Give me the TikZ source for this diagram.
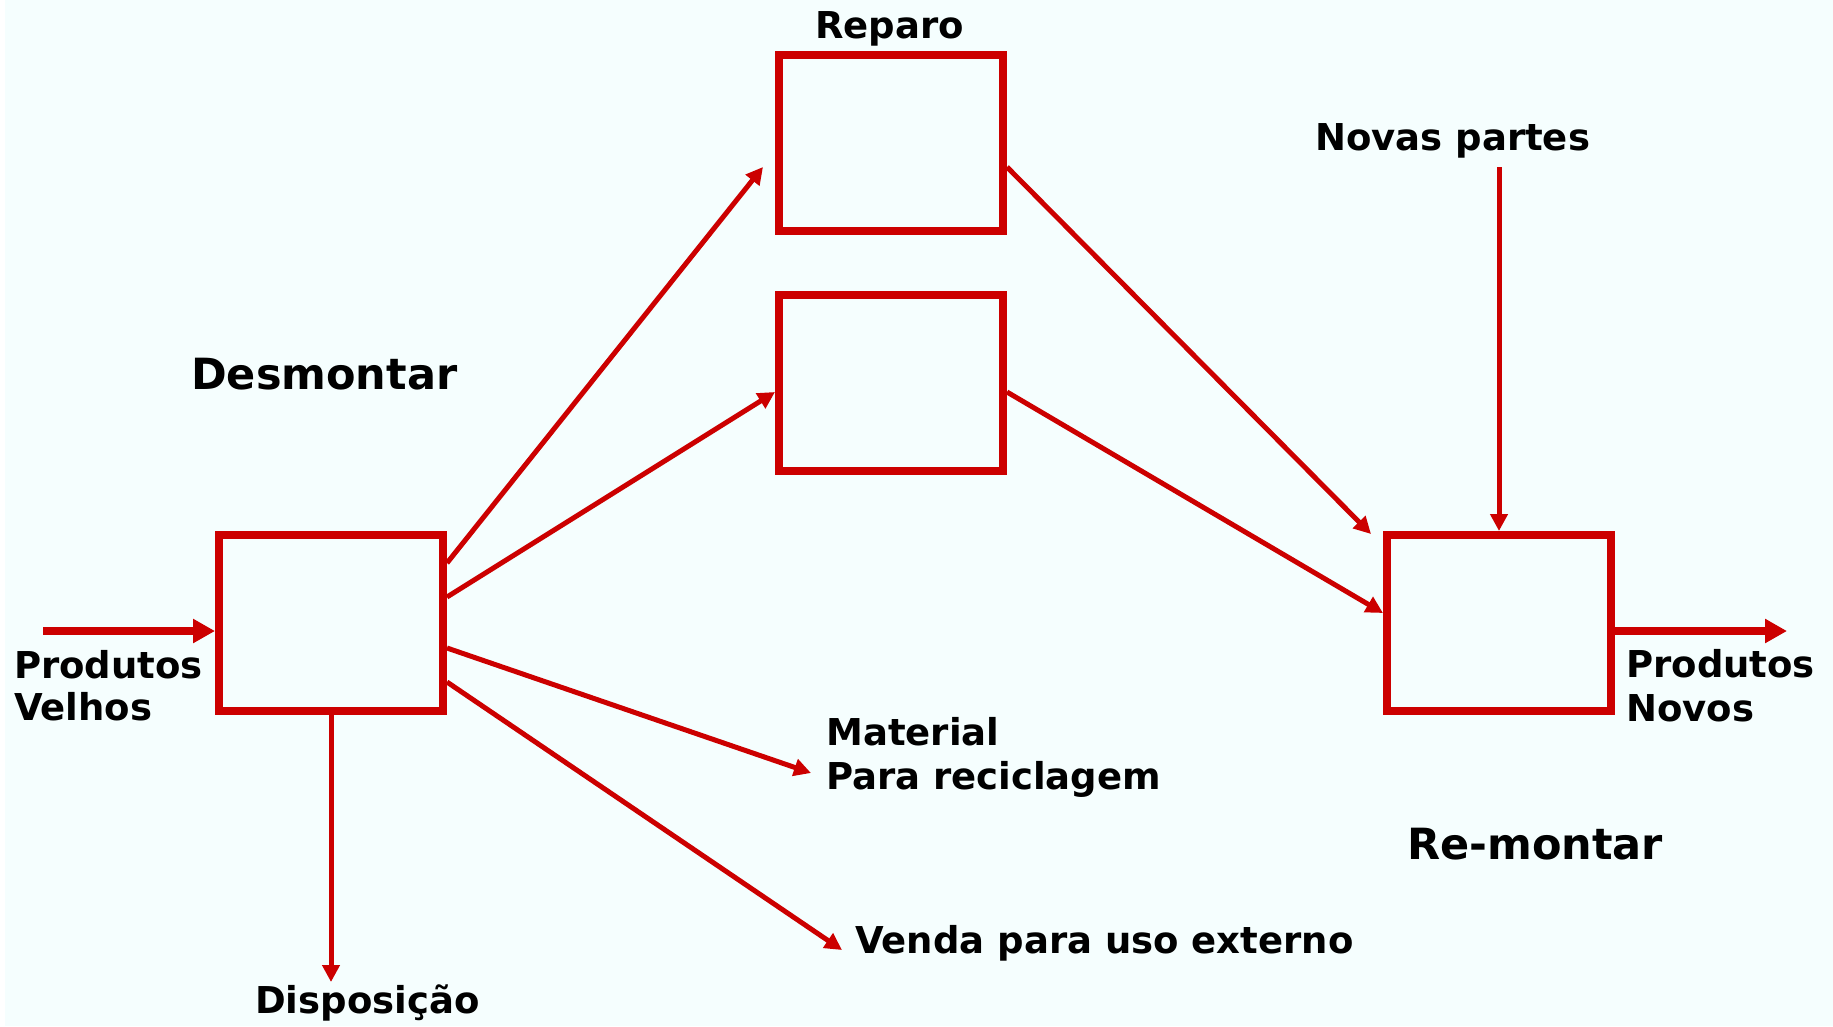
\documentclass[tikz,border=0pt]{standalone}
\usepackage{fontspec}
\setmainfont{DejaVu Sans}
\usetikzlibrary{arrows.meta}
\definecolor{bgc}{HTML}{F5FEFE}
\definecolor{redc}{HTML}{CC0000}
\tikzset{
  procbox/.style={draw=redc, line width=8pt, minimum width=224pt, minimum height=176pt, inner sep=0pt, fill=none},
  thinarrow/.style={draw=redc, line width=5pt, -{Triangle[length=17pt,width=17pt]}},
  thickarrow/.style={draw=redc, line width=8pt, -{Triangle[length=22pt,width=23pt]}},
  lbl/.style={anchor=base west, inner sep=0pt, font=\fontsize{37}{43}\selectfont\bfseries},
  biglbl/.style={anchor=base west, inner sep=0pt, font=\fontsize{43}{50}\selectfont\bfseries}
}
\begin{document}
\begin{tikzpicture}[x=1pt,y=-1pt]
\useasboundingbox (0,0) rectangle (1833,1026);
\fill[white] (0,0) rectangle (1833,1026);
\fill[bgc] (5,0) rectangle (1833,1026);
% boxes
\node[procbox] (lb) at (331,623) {};
\node[procbox] (rep) at (891,143) {};
\node[procbox] (mid) at (891,383) {};
\node[procbox] (rb) at (1499,623) {};
% labels
\node[lbl] (treparo) at (815,38) {Reparo};
\node[biglbl] (tdes) at (191,389) {Desmontar};
\node[biglbl] (tre) at (1407,859) {Re-montar};
\node[lbl] (tnov) at (1315,150) {Novas partes};
\node[lbl] (tvel1) at (14,678) {Produtos};
\node[lbl] (tvel2) at (14,720) {Velhos};
\node[lbl] (tpn1) at (1626,677) {Produtos};
\node[lbl] (tpn2) at (1626,721) {Novos};
\node[lbl] (tmat1) at (826,745) {Material};
\node[lbl] (tmat2) at (826,789) {Para reciclagem};
\node[lbl] (tven) at (855,953) {Venda para uso externo};
\node[lbl] (tdis) at (255,1013) {Disposição};
% free ends
\coordinate (inS) at (43,631);
\coordinate (outE) at (1787,631);
\coordinate (disE) at (331,982);
\coordinate (matE) at (811,773);
\coordinate (venE) at (842,950);
\coordinate (repE) at (763,167);
\coordinate (rbNW) at (1371,534);
\coordinate (novS) at (1499,167);
% connectors
\draw[thickarrow] (inS) -- ([yshift=-8pt]lb.west);
\draw[thickarrow] ([yshift=-8pt]rb.east) -- (outE);
\draw[thinarrow] (lb.south) -- (disE);
\draw[thinarrow] ([yshift=60pt]lb.east) -- (repE);
\draw[thinarrow] ([yshift=26pt]lb.east) -- ([yshift=-9pt]mid.west);
\draw[thinarrow] ([yshift=-25pt]lb.east) -- (matE);
\draw[thinarrow] ([yshift=-59pt]lb.east) -- (venE);
\draw[thinarrow] ([yshift=-24pt]rep.east) -- (rbNW);
\draw[thinarrow] ([yshift=-9pt]mid.east) -- ([yshift=10pt]rb.west);
\draw[thinarrow] (novS) -- (rb.north);
\end{tikzpicture}
\end{document}
